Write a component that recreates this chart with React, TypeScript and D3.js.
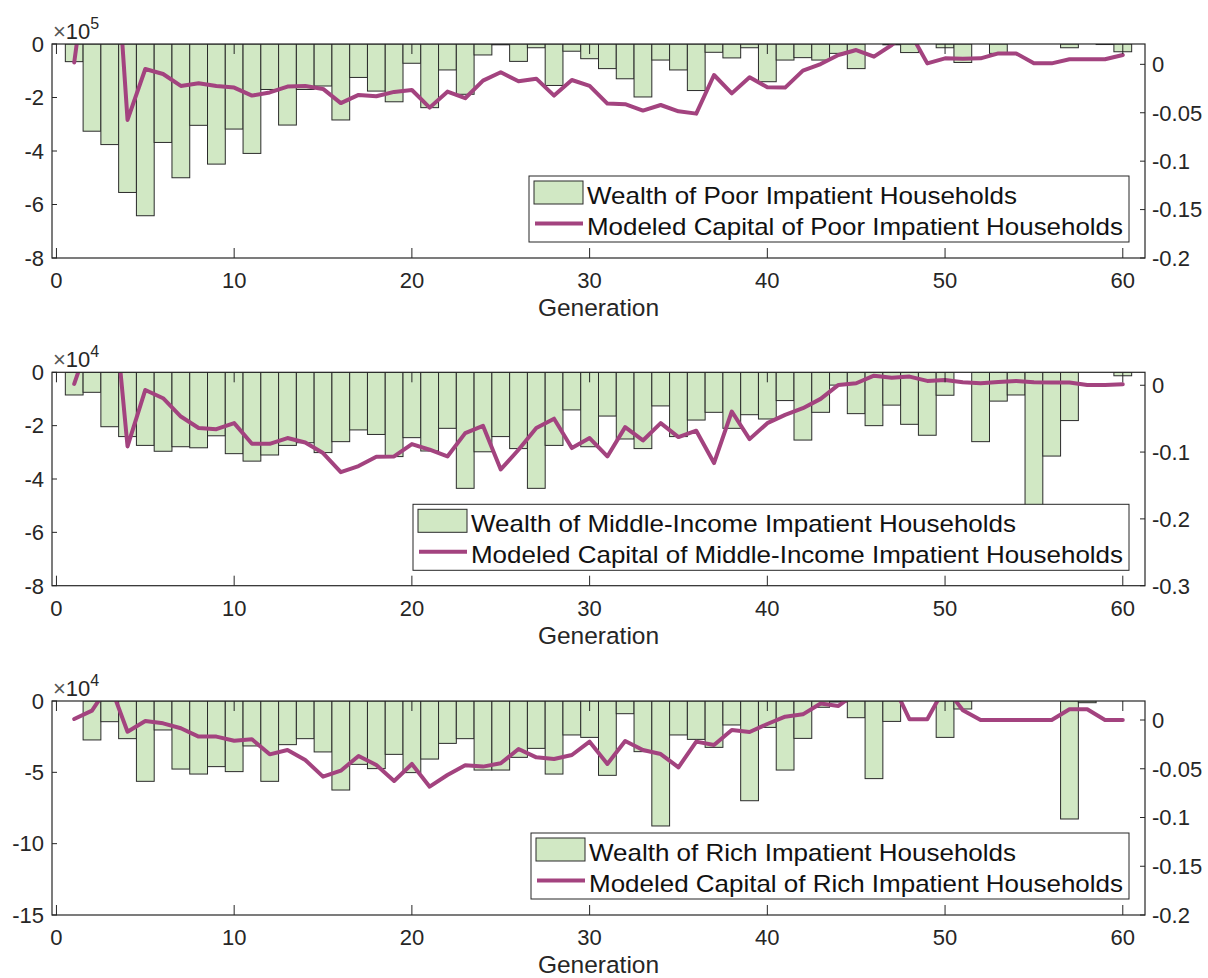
import React from 'react';
import * as d3 from 'd3';

const generations = [1,2,3,4,5,6,7,8,9,10,11,12,13,14,15,16,17,18,19,20,21,22,23,24,25,26,27,28,29,30,31,32,33,34,35,36,37,38,39,40,41,42,43,44,45,46,47,48,49,50,51,52,53,54,55,56,57,58,59,60];

// Panel 1 (x10^5 wealth; capital on right axis)
const poorWealth = [-0.66,-3.26,-3.76,-5.55,-6.42,-3.68,-5.0,-3.04,-4.49,-3.18,-4.09,-1.7,-3.03,-1.7,-1.57,-2.84,-1.25,-1.76,-2.16,-0.72,-2.38,-0.97,-1.88,-0.41,-0.03,-0.65,-0.14,-1.55,-0.27,-0.55,-0.92,-1.3,-1.98,-0.6,-0.97,-1.74,-0.31,-0.52,-0.14,-1.41,-0.6,-0.51,-0.6,-0.35,-0.92,0,-0.03,-0.32,0,-0.14,-0.69,0,-0.35,0,0,0,-0.14,0,-0.02,-0.29];
const poorCapital = [0.002,0.138,0.213,-0.0574,-0.0048,-0.010,-0.0223,-0.0196,-0.0223,-0.024,-0.0323,-0.029,-0.023,-0.0223,-0.0254,-0.040,-0.0316,-0.033,-0.0285,-0.0265,-0.0447,-0.0282,-0.035,-0.0168,-0.0082,-0.0175,-0.0148,-0.0323,-0.0162,-0.0223,-0.0405,-0.0412,-0.0478,-0.042,-0.0485,-0.0509,-0.011,-0.030,-0.0134,-0.0237,-0.024,-0.0065,0.0003,0.0096,0.0148,0.0079,0.020,0.034,0.001,0.0062,0.0058,0.0062,0.0113,0.0113,0.001,0.001,0.0052,0.0052,0.0052,0.0096];

// Panel 2 (x10^4)
const middleWealth = [-0.85,-0.75,-2.04,-2.41,-2.74,-2.96,-2.79,-2.83,-2.38,-3.05,-3.33,-3.1,-2.74,-2.64,-3.01,-2.6,-2.16,-2.33,-3.16,-2.45,-2.95,-2.1,-4.35,-2.98,-2.41,-2.86,-4.35,-2.74,-1.41,-2.79,-1.64,-2.5,-2.86,-1.26,-2.41,-1.79,-1.5,-2.1,-1.59,-1.75,-1.06,-2.54,-1.5,-0.48,-1.55,-2.0,-1.23,-1.95,-2.36,-0.86,0,-2.6,-1.08,-0.85,-6.5,-3.14,-1.81,0,0,-0.13];
const middleCapital = [0.002,0.08,0.19,-0.0915,-0.007,-0.0194,-0.0468,-0.064,-0.0657,-0.0567,-0.0876,-0.0876,-0.079,-0.0856,-0.1015,-0.130,-0.121,-0.107,-0.1065,-0.088,-0.0965,-0.1065,-0.0716,-0.0607,-0.126,-0.0965,-0.064,-0.050,-0.094,-0.079,-0.1065,-0.0627,-0.0826,-0.0567,-0.0776,-0.068,-0.1164,-0.0393,-0.0806,-0.0567,-0.0443,-0.0343,-0.0204,0.0005,0.003,0.0144,0.0114,0.013,0.0065,0.008,0.0045,0.003,0.005,0.0065,0.0045,0.004,0.004,0.0005,0.0005,0.0015];

// Panel 3 (x10^4)
const richWealth = [0,-2.73,-1.45,-2.64,-5.63,-2.03,-4.77,-5.12,-4.6,-4.95,-3.15,-5.63,-3.06,-2.64,-3.57,-6.24,-4.44,-4.74,-3.74,-5.02,-4.07,-2.97,-2.64,-4.84,-4.84,-3.95,-3.32,-5.12,-2.38,-2.55,-5.21,-0.89,-3.55,-8.76,-2.38,-2.69,-3.25,-1.68,-6.99,-1.85,-4.84,-2.62,-0.44,-0.07,-1.17,-5.44,-1.43,0,0,-2.55,-0.56,0,0,0,0,0,-8.27,-0.12,0,0];
const richCapital = [0.001,0.0096,0.037,-0.012,-0.001,-0.0034,-0.0085,-0.017,-0.017,-0.0212,-0.0198,-0.0352,-0.0308,-0.041,-0.0581,-0.052,-0.0369,-0.0461,-0.0625,-0.0451,-0.0684,-0.0564,-0.0465,-0.0478,-0.0444,-0.0297,-0.0383,-0.04,-0.0359,-0.0222,-0.0451,-0.0215,-0.0308,-0.0349,-0.0485,-0.0222,-0.0256,-0.0103,-0.0123,-0.0041,0.0034,0.0058,0.017,0.0144,0.028,0.035,0.039,0.0007,0.0007,0.034,0.010,0,0,0,0,0,0.011,0.011,0,0];

const xTicks = [0,10,20,30,40,50,60];
const poorLeftTicks = [0,-2,-4,-6,-8];
const poorRightTicks = [0,-0.05,-0.1,-0.15,-0.2];
const middleLeftTicks = [0,-2,-4,-6,-8];
const middleRightTicks = [0,-0.1,-0.2,-0.3];
const richLeftTicks = [0,-5,-10,-15];
const richRightTicks = [0,-0.05,-0.1,-0.15,-0.2];

const poorLegend = ['Wealth of Poor Impatient Households', 'Modeled Capital of Poor Impatient Households'];
const middleLegend = ['Wealth of Middle-Income Impatient Households', 'Modeled Capital of Middle-Income Impatient Households'];
const richLegend = ['Wealth of Rich Impatient Households', 'Modeled Capital of Rich Impatient Households'];

const xLabel = 'Generation';

const FONT = "'Liberation Sans', Arial, Helvetica, sans-serif";
const AX = '#262626';
const BAR_FILL = '#d1e8c4';
const BAR_EDGE = '#2b2b2b';
const LINE = '#a3437f';

type PanelCfg = {
  id: string;
  top: number;
  bottom: number;
  wealth: number[];
  capital: number[];
  leftDomain: [number, number];
  rightDomain: [number, number];
  leftTicks: number[];
  rightTicks: number[];
  exponent: string;
  legend: string[];
  legendWidths: [number, number];
};

const LEFT = 52;
const RIGHT = 1145;

const panels: PanelCfg[] = [
  { id: 'p1', top: 44, bottom: 258, wealth: poorWealth, capital: poorCapital, leftDomain: [-8, 0], rightDomain: [-0.2, 0.021], leftTicks: poorLeftTicks, rightTicks: poorRightTicks, exponent: '5', legend: poorLegend, legendWidths: [430, 536] },
  { id: 'p2', top: 372.3, bottom: 585.7, wealth: middleWealth, capital: middleCapital, leftDomain: [-8, 0], rightDomain: [-0.3, 0.0194], leftTicks: middleLeftTicks, rightTicks: middleRightTicks, exponent: '4', legend: middleLegend, legendWidths: [545, 652] },
  { id: 'p3', top: 701, bottom: 915, wealth: richWealth, capital: richCapital, leftDomain: [-15, 0], rightDomain: [-0.2, 0.0195], leftTicks: richLeftTicks, rightTicks: richRightTicks, exponent: '4', legend: richLegend, legendWidths: [427, 534] },
];

function Panel({ cfg }: { cfg: PanelCfg }) {
  const x = d3.scaleLinear().domain([-0.25, 61.25]).range([LEFT, RIGHT]);
  const yL = d3.scaleLinear().domain(cfg.leftDomain).range([cfg.bottom, cfg.top]);
  const yR = d3.scaleLinear().domain(cfg.rightDomain).range([cfg.bottom, cfg.top]);
  const line = d3.line<number>().x((_, i) => x(generations[i])).y((d) => yR(d));
  const clipId = 'clip-' + cfg.id;
  const fmtR = (v: number) => (v === 0 ? '0' : String(v));

  const legTop = cfg.top + 132;
  const legH = 66;
  const legRight = 1129;
  const legLeft = legRight - (58 + cfg.legendWidths[1] + 6);

  return (
    <g>
      <defs>
        <clipPath id={clipId}>
          <rect x={LEFT} y={cfg.top} width={RIGHT - LEFT} height={cfg.bottom - cfg.top} />
        </clipPath>
      </defs>
      <g clipPath={`url(#${clipId})`}>
        {cfg.wealth.map((v, i) => {
          const g = generations[i];
          const x0 = x(g - 0.5);
          const x1 = x(g + 0.5);
          const y0 = Math.min(yL(0), yL(v));
          const h = Math.abs(yL(v) - yL(0));
          return <rect key={i} x={x0} y={y0} width={x1 - x0} height={h} fill={BAR_FILL} stroke={BAR_EDGE} strokeWidth={1} />;
        })}
        <path d={line(cfg.capital) || ''} fill="none" stroke={LINE} strokeWidth={4} strokeLinejoin="round" strokeLinecap="round" />
      </g>
      <rect x={LEFT} y={cfg.top} width={RIGHT - LEFT} height={cfg.bottom - cfg.top} fill="none" stroke={AX} strokeWidth={1.2} />
      {xTicks.map((t) => (
        <g key={'xt' + t}>
          <line x1={x(t)} x2={x(t)} y1={cfg.bottom} y2={cfg.bottom - 10} stroke={AX} strokeWidth={1} />
          <line x1={x(t)} x2={x(t)} y1={cfg.top} y2={cfg.top + 10} stroke={AX} strokeWidth={1} />
          <text x={x(t)} y={cfg.bottom + 30} textAnchor="middle" fontSize={22} fill={AX} fontFamily={FONT}>{t}</text>
        </g>
      ))}
      {cfg.leftTicks.map((t) => (
        <g key={'lt' + t}>
          <line x1={LEFT} x2={LEFT + 5} y1={yL(t)} y2={yL(t)} stroke={AX} strokeWidth={1} />
          <text x={44} y={yL(t) + 7.8} textAnchor="end" fontSize={22} fill={AX} fontFamily={FONT}>{t}</text>
        </g>
      ))}
      {cfg.rightTicks.map((t) => (
        <g key={'rt' + t}>
          <line x1={RIGHT} x2={RIGHT - 5} y1={yR(t)} y2={yR(t)} stroke={AX} strokeWidth={1} />
          <text x={1152} y={yR(t) + 7.8} textAnchor="start" fontSize={22} fill={AX} fontFamily={FONT}>{fmtR(t)}</text>
        </g>
      ))}
      <text x={53} y={cfg.top - 5} fontSize={22} fill={AX} fontFamily={FONT}>
        <tspan fill="#555">×</tspan>10<tspan dy={-10} fontSize={16}>{cfg.exponent}</tspan>
      </text>
      <text x={(LEFT + RIGHT) / 2} y={cfg.bottom + 58} textAnchor="middle" fontSize={24.5} fill={AX} fontFamily={FONT}>{xLabel}</text>
      <rect x={legLeft} y={legTop} width={legRight - legLeft} height={legH} fill="#fff" stroke={AX} strokeWidth={1} />
      <rect x={legLeft + 5} y={legTop + 5} width={49} height={23} fill={BAR_FILL} stroke={BAR_EDGE} strokeWidth={1} />
      <line x1={legLeft + 6} x2={legLeft + 54} y1={legTop + 47.5} y2={legTop + 47.5} stroke={LINE} strokeWidth={4} />
      <text x={legLeft + 58} y={legTop + 19 + 8.5} fontSize={24} fill="#111" fontFamily={FONT} textLength={cfg.legendWidths[0]} lengthAdjust="spacingAndGlyphs">{cfg.legend[0]}</text>
      <text x={legLeft + 58} y={legTop + 50 + 8.5} fontSize={24} fill="#111" fontFamily={FONT} textLength={cfg.legendWidths[1]} lengthAdjust="spacingAndGlyphs">{cfg.legend[1]}</text>
    </g>
  );
}

export default function App() {
  return (
    <svg width={1208} height={978} style={{ position: 'absolute', left: 0, top: 0, background: '#fff', display: 'block' }}>
      <rect x={0} y={0} width={1208} height={978} fill="#fff" />
      {panels.map((p) => (
        <Panel key={p.id} cfg={p} />
      ))}
    </svg>
  );
}
